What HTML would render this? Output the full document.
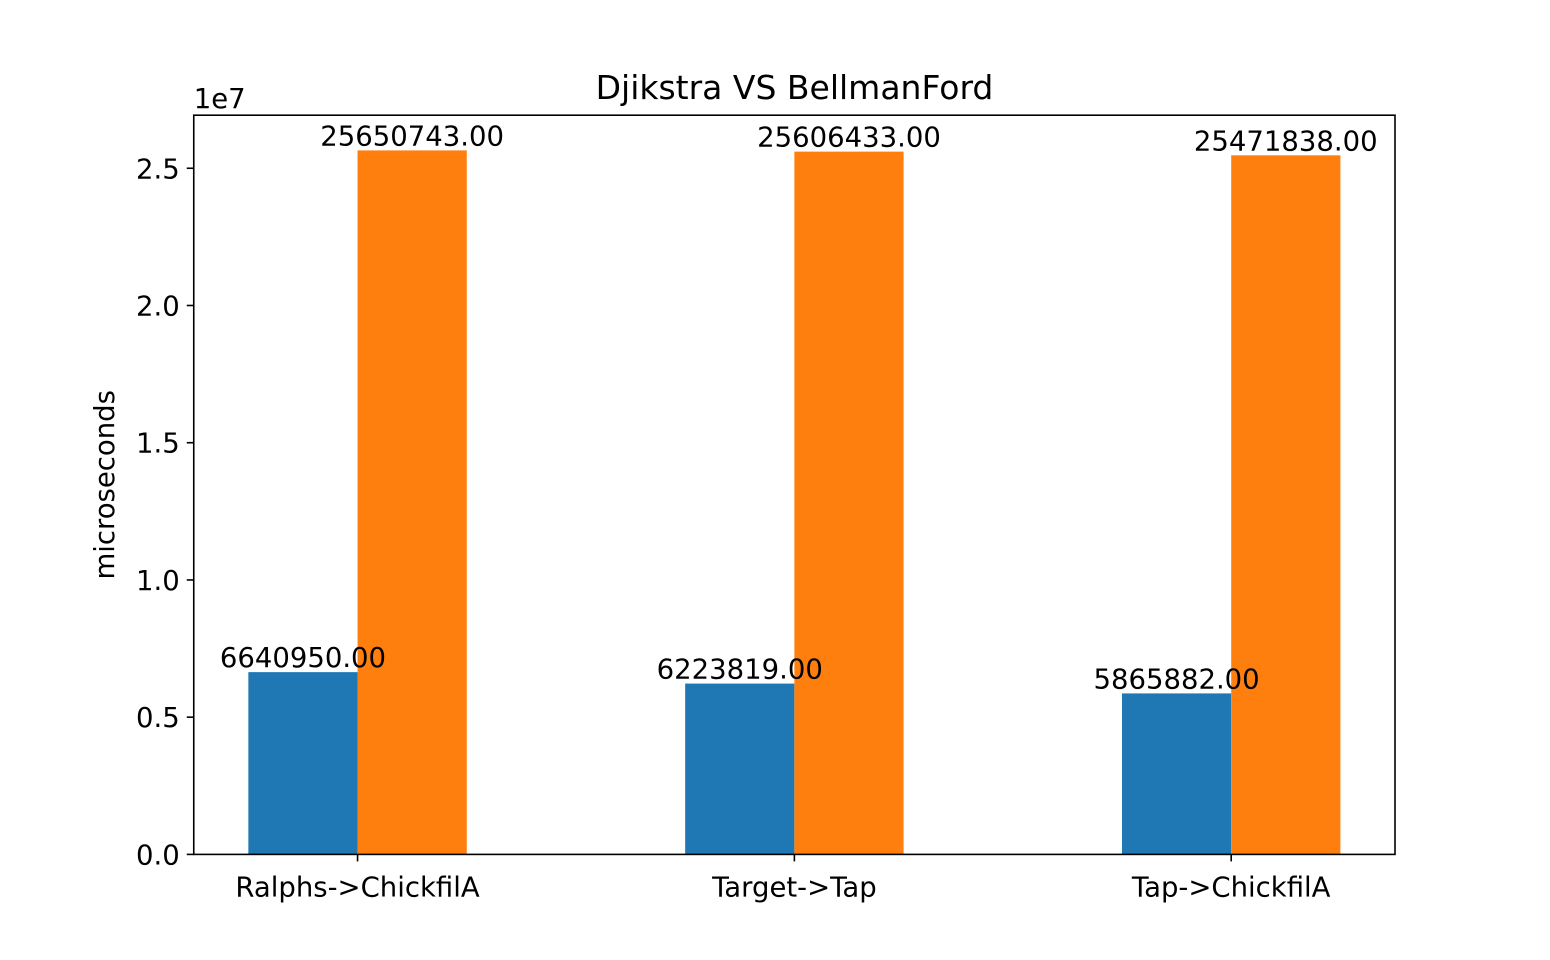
<!DOCTYPE html>
<html><head><meta charset="utf-8"><style>
html,body{margin:0;padding:0;background:#fff;}
svg{display:block;font-family:"DejaVu Sans","Liberation Sans",sans-serif;}
</style></head><body>
<svg id="chart" width="1550" height="960" xmlns="http://www.w3.org/2000/svg">
<rect x="0" y="0" width="1550" height="960" fill="#fff"/>
<text x="794.5" y="99" font-size="33" text-anchor="middle">Djikstra VS BellmanFord</text>
<g id="plot"></g>
</svg>
<script>
const categories = ["Ralphs->ChickfilA", "Target->Tap", "Tap->ChickfilA"];
const djikstra = [6640950, 6223819, 5865882];
const bellman = [25650743, 25606433, 25471838];
const yTicks = [0, 0.5e7, 1.0e7, 1.5e7, 2.0e7, 2.5e7];
const yTickLabels = ["0.0", "0.5", "1.0", "1.5", "2.0", "2.5"];

const L=193.75, R=1395, T=115.2, B=854.4;
const ymax = Math.max(...djikstra, ...bellman) * 1.05;
const xmin=-0.375, xmax=categories.length-1+0.375;
const xs = v => L + (v - xmin) / (xmax - xmin) * (R - L);
const ys = v => B - v / ymax * (B - T);
const NS="http://www.w3.org/2000/svg";
const g=document.getElementById('plot');
function mk(tag, attrs, parent){const e=document.createElementNS(NS,tag);for(const k in attrs)e.setAttribute(k,attrs[k]);(parent||g).appendChild(e);return e;}
const w=0.25;
function bars(vals, offset, color, name){
  vals.forEach((v,i)=>{
    const x0=xs(i+offset-w/2), x1=xs(i+offset+w/2);
    const r=mk('rect',{x:x0,y:ys(v),width:x1-x0,height:B-ys(v),fill:color});
    
    
  });
}
function labels(vals, offset, name){
  vals.forEach((v,i)=>{
    const t=mk('text',{x:xs(i+offset),y:ys(v)-5,'font-size':27.5,'text-anchor':'middle'});
    t.textContent=v.toFixed(2);
    
    
  });
}
bars(djikstra,-0.125,'#1f77b4','djikstra');
bars(bellman,0.125,'#ff7f0e','bellmanford');
labels(djikstra,-0.125,'djikstra');
labels(bellman,0.125,'bellmanford');
const frame=mk('rect',{x:L,y:T,width:R-L,height:B-T,fill:'none',stroke:'#000','stroke-width':1.6});


yTicks.forEach((v,i)=>{
  const y=ys(v);
  const l=mk('line',{x1:L,x2:L-7,y1:y,y2:y,stroke:'#000','stroke-width':1.6});
  
  
  const t=mk('text',{x:L-14,y:y+10,'font-size':27.5,'text-anchor':'end'});
  t.textContent=yTickLabels[i];
  
  
});
categories.forEach((c,i)=>{
  const x=xs(i);
  const l=mk('line',{x1:x,x2:x,y1:B,y2:B+7,stroke:'#000','stroke-width':1.6});
  
  
  const t=mk('text',{x:x,y:B+42,'font-size':27.5,'text-anchor':'middle'});
  t.textContent=c;
  
  
});
const off=mk('text',{x:L,y:T-7,'font-size':27.5});
off.textContent='1e7';


const yl=mk('text',{x:0,y:0,'font-size':27.5,'text-anchor':'middle',transform:`translate(114,${(T+B)/2}) rotate(-90)`});
yl.textContent='microseconds';


</script>
</body></html>
